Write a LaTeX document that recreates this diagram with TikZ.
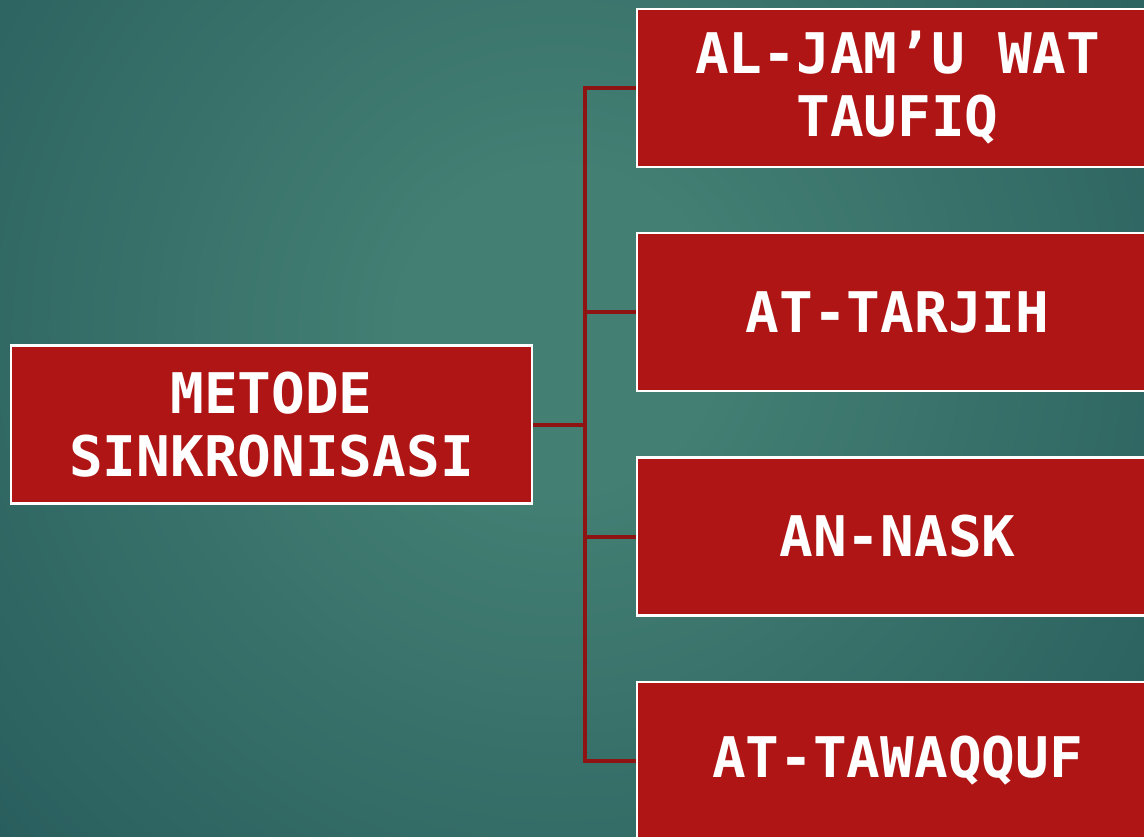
\documentclass[tikz,border=0pt]{standalone}
\usepackage{fontspec}
\newfontfamily\boxfont{DejaVu Sans Mono}
\definecolor{bglight}{HTML}{437F73}
\definecolor{bgdark}{HTML}{1D4F54}
\definecolor{boxred}{HTML}{AF1515}
\definecolor{linkred}{HTML}{8E1414}
\pgfdeclareradialshading{bgshade}{\pgfpoint{0bp}{0bp}}{color(0bp)=(bglight); color(5bp)=(bglight); color(32bp)=(bgdark); color(50bp)=(bgdark)}
\begin{document}
\begin{tikzpicture}[x=1pt,y=-1pt]
	\tikzset{item/.style = {rectangle,draw=white,line width=2.5pt,fill=boxred,text=white,
		minimum width=521pt,minimum height=158pt,align=center,
		font=\boxfont\bfseries\fontsize{56}{63}\selectfont}}
	\tikzset{link/.style = {draw=linkred,line width=4pt}}
	\useasboundingbox (0,0) rectangle (1144,837);
	\clip (0,0) rectangle (1144,837);
	\fill[bgdark] (0,0) rectangle (1144,837);
	\shade[shading=bgshade] (560,330) circle (800);
	\node[item] (metode) at (271.5,424.5) {METODE\\SINKRONISASI};
	\node[item] (jamu) at (897.5,88) {AL-JAM’U WAT\\TAUFIQ};
	\node[item] (tarjih) at (897.5,312) {AT-TARJIH};
	\node[item] (nask) at (897.5,536.5) {AN-NASK};
	\node[item] (tawaqquf) at (897.5,761) {AT-TAWAQQUF};
	\coordinate (split) at (585,424.5);
	\path[link] (metode.east) -- (split);
	\path[link] (jamu.west) -- (split |- jamu.west) -- (split |- tawaqquf.west) -- (tawaqquf.west);
	\path[link] (split |- tarjih.west) -- (tarjih.west);
	\path[link] (split |- nask.west) -- (nask.west);
\end{tikzpicture}
\end{document}
